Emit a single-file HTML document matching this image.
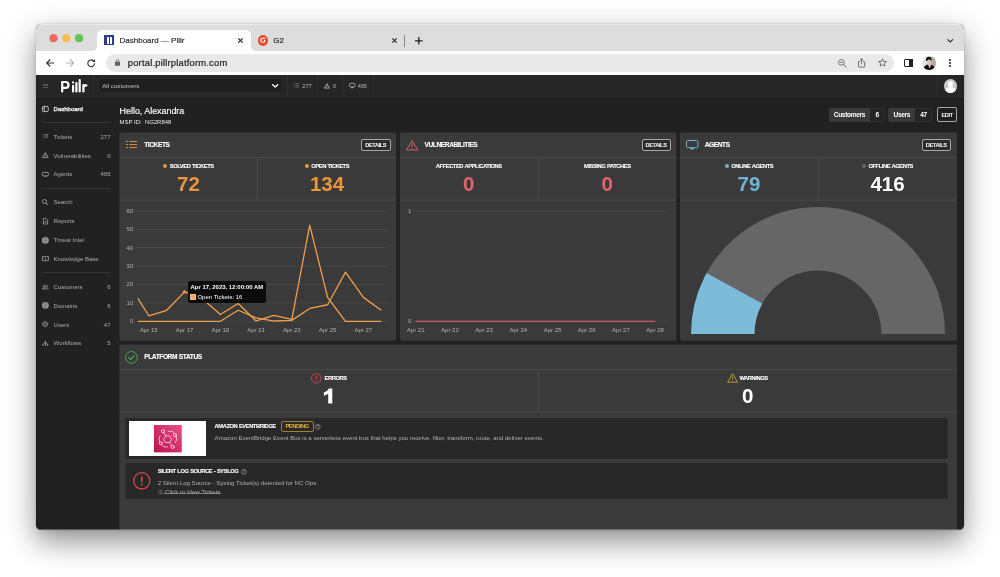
<!DOCTYPE html>
<html>
<head>
<meta charset="utf-8">
<title>Dashboard — Pillr</title>
<style>
*{box-sizing:border-box;margin:0;padding:0}
html,body{width:1000px;height:577px;overflow:hidden;background:#fff}
body{font-family:"Liberation Sans",sans-serif;position:relative;color:#fff}
.a{position:absolute}
.t{position:absolute;white-space:nowrap;line-height:1}
.b{font-weight:bold}
svg{position:absolute;overflow:visible}
#shadow{left:36px;top:24.3px;width:928px;height:505.3px;border-radius:5.5px;
 box-shadow:0 12px 26px rgba(0,0,0,.33),0 0 0 .5px rgba(0,0,0,.10),0 10px 42px rgba(0,0,0,.13),0 2px 6px rgba(0,0,0,.07)}
#win{left:36px;top:24px;width:928px;height:505.6px;overflow:hidden;background:#222;border-radius:5.5px}
#o{left:-36px;top:-24px;width:1000px;height:577px}
#win{will-change:transform}
/* chrome */
.dot{width:8.2px;height:8.2px;border-radius:50%;top:34.1px}
/* app */
.panel{background:#3a3a3a;border-radius:2px}
.hl{background:#4b4b4b;height:1px}
.vl{background:#4b4b4b;width:1px}
.card{background:#282828;border-radius:2px}
.nav{color:#adadad;font-size:6px;left:53.6px}
.cnt{color:#adadad;font-size:6px;right:889.5px}
.btn{border:.8px solid #a8a8a8;border-radius:2px;font-size:5.7px;font-weight:bold;color:#fff;text-align:center;letter-spacing:-.42px;text-indent:-.4px}
.lbl{font-size:5.8px;font-weight:bold;color:#fff;letter-spacing:-.46px;word-spacing:.5px;-webkit-text-stroke:.1px #fff}
.big{font-size:20.5px;font-weight:bold}
.ph{font-size:6.6px;font-weight:bold;color:#fff;letter-spacing:-.41px;word-spacing:.4px;-webkit-text-stroke:.1px #fff}
.ax{font-size:6px;color:#b2b2b2}
.hc{font-size:5.55px;color:#b6b6b6}
</style>
</head>
<body>
<div id="shadow" class="a"></div>
<div id="win" class="a"><div id="o" class="a">
<!-- ===== browser chrome ===== -->
<div class="a" style="left:36px;top:24px;width:928px;height:27px;background:#dddddd"></div><div class="a" style="left:36px;top:24.3px;width:928px;height:.7px;background:rgba(255,255,255,.45)"></div>
<svg style="left:0;top:0" width="1000" height="577" viewBox="0 0 1000 577"><rect x="36" y="51" width="928" height="24.1" fill="#fff"/><rect x="36" y="75.1" width="928" height="22" fill="#262626"/><rect x="36" y="96.1" width="928" height=".7" fill="#303030"/><rect x="36" y="96.75" width="928" height="434" fill="#212121"/></svg>
<svg style="left:0;top:0" width="100" height="60" viewBox="0 0 100 60"><circle cx="53.5" cy="38.2" r="4.1" fill="#ee6a5f"/><circle cx="66.3" cy="38.2" r="4.1" fill="#f5be4f"/><circle cx="79.1" cy="38.2" r="4.1" fill="#62c554"/></svg>
<!-- active tab -->
<div class="a" style="left:96.5px;top:29.9px;width:154.5px;height:21.4px;background:#fff;border-radius:5.5px 5.5px 0 0"></div>
<svg style="left:91.5px;top:46px" width="5" height="5"><path d="M0 5H5V0A5 5 0 0 1 0 5Z" fill="#fff"/></svg>
<svg style="left:251px;top:46px" width="5" height="5"><path d="M5 5H0V0A5 5 0 0 0 5 5Z" fill="#fff"/></svg>
<div class="a" style="left:103.8px;top:35.2px;width:10.2px;height:10.2px;background:#303c8e"></div>
<div class="a" style="left:107.3px;top:36.5px;width:1.6px;height:7.6px;background:#fff"></div>
<div class="a" style="left:109.95px;top:36.5px;width:1.6px;height:7.6px;background:#fff"></div>
<div class="t" style="left:119.5px;top:36.8px;font-size:8px;color:#2e3134;-webkit-text-stroke:.2px #2e3134">Dashboard — Pillr</div>
<svg style="left:237.6px;top:37.9px" width="5" height="5" viewBox="0 0 5 5"><path d="M0.3 0.3L4.7 4.7M4.7 0.3L0.3 4.7" stroke="#2a2a2a" stroke-width="1.2" fill="none"/></svg>
<!-- tab 2 -->
<div class="a" style="left:257.8px;top:35.4px;width:10.2px;height:10.2px;border-radius:50%;background:#ee4a2c"></div>
<svg style="left:257.8px;top:35.4px" width="10.2" height="10.2" viewBox="0 0 10.2 10.2"><path d="M6.3 3.6A2.15 2.15 0 1 0 6.9 6.2" stroke="#fff" stroke-width="1.05" fill="none"/><path d="M5.6 5.9L6.3 4.9H7.6L7 5.9Z" fill="#fff"/><path d="M6.5 3.2Q6.7 2.5 7.3 2.6Q7.9 2.8 7.2 3.5L6.6 4.1H7.8" stroke="#fff" stroke-width=".5" fill="none"/></svg>
<div class="t" style="left:273.2px;top:36.8px;font-size:8px;color:#2e3134;-webkit-text-stroke:.2px #2e3134">G2</div>
<svg style="left:391.8px;top:37.9px" width="5" height="5" viewBox="0 0 5 5"><path d="M0.3 0.3L4.7 4.7M4.7 0.3L0.3 4.7" stroke="#2a2a2a" stroke-width="1.2" fill="none"/></svg>
<div class="a" style="left:404.3px;top:34.5px;width:.7px;height:12.2px;background:#8a8a8a"></div>
<svg style="left:414.8px;top:36.6px" width="7.6" height="7.6" viewBox="0 0 7.6 7.6"><path d="M3.8 0V7.6M0 3.8H7.6" stroke="#222" stroke-width="1.3" fill="none"/></svg>
<svg style="left:946.5px;top:38.8px" width="6.4" height="3.6" viewBox="0 0 6.4 3.6"><path d="M0.4 0.4L3.2 3L6 0.4" stroke="#222" stroke-width="1.1" fill="none"/></svg>
<!-- toolbar -->
<svg style="left:46px;top:59px" width="8.4" height="8" viewBox="0 0 8.4 8"><path d="M8.2 4H0.8M4.2 0.5L0.7 4L4.2 7.5" stroke="#333" stroke-width="1.1" fill="none"/></svg>
<svg style="left:66.4px;top:59px" width="8.4" height="8" viewBox="0 0 8.4 8"><path d="M0.2 4H7.6M4.2 0.5L7.7 4L4.2 7.5" stroke="#b4b4b4" stroke-width="1.1" fill="none"/></svg>
<svg style="left:87.4px;top:58.8px" width="8.6" height="8.6" viewBox="0 0 8.6 8.6"><path d="M7.6 4.3A3.4 3.4 0 1 1 6.6 1.9" stroke="#333" stroke-width="1.1" fill="none"/><path d="M5.1 2.9H8V0Z" fill="#333"/></svg>
<div class="a" style="left:106.2px;top:54.2px;width:788px;height:17.5px;border-radius:9px;background:#e9e9e9"></div>
<svg style="left:115px;top:58.6px" width="5" height="7" viewBox="0 0 5 7"><rect x="0" y="2.8" width="5" height="4" rx=".6" fill="#5f6368"/><path d="M1.2 3V1.9A1.3 1.3 0 0 1 3.8 1.9V3" stroke="#5f6368" stroke-width=".8" fill="none"/></svg>
<div class="t" style="left:127.8px;top:58.4px;font-size:9.4px;letter-spacing:.2px;color:#202124;-webkit-text-stroke:.2px #202124">portal.pillrplatform.com</div>
<!-- right icons -->
<svg style="left:837.5px;top:59px" width="9" height="9" viewBox="0 0 9 9"><circle cx="3.4" cy="3.4" r="2.8" stroke="#5f6368" stroke-width=".9" fill="none"/><path d="M5.5 5.5L8.4 8.4" stroke="#5f6368" stroke-width="1"/><path d="M2 3.4H4.8" stroke="#5f6368" stroke-width=".8"/></svg>
<svg style="left:858.4px;top:57.8px" width="7.2" height="9.6" viewBox="0 0 7.2 9.6"><path d="M2 3.6H.9Q.5 3.6 .5 4.1V8.6Q.5 9.1 .9 9.1H6.3Q6.7 9.1 6.7 8.6V4.1Q6.7 3.6 6.3 3.6H5.2" stroke="#5f6368" stroke-width=".9" fill="none"/><path d="M3.6 6.4V.9M1.9 2.4L3.6 .7L5.3 2.4" stroke="#5f6368" stroke-width=".9" fill="none"/></svg>
<svg style="left:878px;top:58.4px" width="9" height="8.8" viewBox="0 0 9 8.8"><path d="M4.5 .8L5.6 3.4L8.4 3.6L6.3 5.4L6.9 8.1L4.5 6.7L2.1 8.1L2.7 5.4L.6 3.6L3.4 3.4Z" stroke="#5f6368" stroke-width=".9" fill="none" stroke-linejoin="round"/></svg>
<div class="a" style="left:904px;top:58.7px;width:9px;height:8.6px;border:1.2px solid #222;border-radius:1px"></div>
<div class="a" style="left:909.2px;top:58.7px;width:3.8px;height:8.6px;background:#222"></div>
<svg style="left:922.1px;top:55.6px" width="14.1" height="14.1" viewBox="0 0 14.1 14.1"><defs><clipPath id="av"><circle cx="7.05" cy="7.05" r="7.05"/></clipPath><linearGradient id="avb" x1="0" y1="0" x2="1" y2="0"><stop offset="0" stop-color="#e6e2df"/><stop offset=".55" stop-color="#dcd8d3"/><stop offset=".7" stop-color="#b4afa2"/><stop offset="1" stop-color="#a9a597"/></linearGradient></defs><g clip-path="url(#av)"><rect width="14.1" height="14.1" fill="#e4e0dd"/><rect x="8.4" width="5.7" height="14.1" fill="#b3aea1"/><path d="M4 4.2Q3.8 .9 6.6 .7Q9.6 .6 9.6 3.6L9.2 5H4.4Z" fill="#15120f"/><ellipse cx="7.1" cy="5.6" rx="1.9" ry="2.7" fill="#dcc6b8"/><path d="M5.3 3.6Q7 2.6 8.9 3.8L9 2.6Q7 1.6 5 2.8Z" fill="#15120f"/><path d="M6.2 7.6H8.2V10H6.2Z" fill="#d3bcad"/><path d="M1.6 14.1Q1.4 9.6 5.8 8.6L7.8 12.2L9 8.7Q13.2 9.8 13 14.1Z" fill="#0e0e10"/><path d="M6.4 8.8L7.8 12.2L8.8 8.8Q7.6 9.4 6.4 8.8Z" fill="#d3bcad"/></g></svg>
<div class="a" style="left:948.8px;top:58.8px;width:1.8px;height:1.8px;border-radius:50%;background:#222"></div>
<div class="a" style="left:948.8px;top:62.1px;width:1.8px;height:1.8px;border-radius:50%;background:#222"></div>
<div class="a" style="left:948.8px;top:65.4px;width:1.8px;height:1.8px;border-radius:50%;background:#222"></div>

<!-- ===== app header ===== -->
<!--HEADER-->
<!-- hamburger -->
<div class="a" style="left:43.3px;top:83.5px;width:4.7px;height:.8px;background:#545454"></div>
<div class="a" style="left:43.3px;top:85.2px;width:4.7px;height:.8px;background:#545454"></div>
<div class="a" style="left:43.3px;top:86.9px;width:4.7px;height:.8px;background:#545454"></div>
<!-- logo -->
<svg style="left:60px;top:78px" width="30" height="16" viewBox="0 0 30 16"><g stroke="#fff" stroke-width="2.2" fill="none" stroke-linecap="round" stroke-linejoin="round"><path d="M2.2 13.4V4H5.6A2.9 2.9 0 0 1 5.6 9.8H2.6"/><path d="M13.1 7.9V13.4"/><path d="M16.4 5.1V13.4"/><path d="M19.7 2V13.4"/><path d="M23.4 7.2V13.4M23.5 9.4Q23.8 7.1 26.4 7.3"/></g><circle cx="13.1" cy="4.5" r="1.15" fill="#fff"/></svg>
<div class="a" style="left:93.4px;top:75.3px;width:.8px;height:21.5px;background:#2f2f2f"></div>
<!-- select -->
<svg style="left:0;top:0" width="300" height="100" viewBox="0 0 300 100"><rect x="98.7" y="78.6" width="183.6" height="14.2" rx="1.8" fill="#1f1f1f" stroke="#313131" stroke-width=".7"/></svg>
<div class="t" style="left:102.2px;top:82.7px;font-size:6.2px;color:#c8c8c8">All customers</div>
<svg style="left:272px;top:84px" width="6.4" height="4" viewBox="0 0 6.4 4"><path d="M.7 .7L3.2 3.1L5.7 .7" stroke="#fff" stroke-width="1.4" fill="none" stroke-linecap="round" stroke-linejoin="round"/></svg>
<!-- counters -->
<div class="a" style="left:287.2px;top:75.3px;width:.8px;height:21.5px;background:#2f2f2f"></div>
<div class="a" style="left:317px;top:75.3px;width:.8px;height:21.5px;background:#2f2f2f"></div>
<div class="a" style="left:342px;top:75.3px;width:.8px;height:21.5px;background:#2f2f2f"></div>
<div class="a" style="left:373px;top:75.3px;width:.8px;height:21.5px;background:#2f2f2f"></div>
<svg style="left:294.2px;top:83.2px" width="5.1" height="4.6" viewBox="0 0 5.1 4.6"><path d="M0 .5H1M0 2.3H1M0 4.1H1M1.7 .5H5.1M1.7 2.3H5.1M1.7 4.1H5.1" stroke="#686868" stroke-width=".9"/></svg>
<div class="t hc" style="left:302.3px;top:83.8px">277</div>
<svg style="left:324.2px;top:83px" width="6" height="5.6" viewBox="0 0 6 5.6"><path d="M3 .6L5.6 5.1H.4Z" stroke="#b0b0b0" stroke-width=".85" fill="none" stroke-linejoin="round"/><path d="M3 2.2V3.6M3 4.1V4.7" stroke="#b0b0b0" stroke-width=".8"/></svg>
<div class="t hc" style="left:333px;top:83.8px">0</div>
<svg style="left:349.2px;top:83.2px" width="6" height="5.4" viewBox="0 0 6 5.4"><rect x=".4" y=".4" width="5.6" height="3.5" rx="1" stroke="#b0b0b0" stroke-width=".8" fill="none"/><path d="M2.2 4.7H4.2" stroke="#d0d0d0" stroke-width=".8"/></svg>
<div class="t hc" style="left:357.7px;top:83.8px">495</div>
<!-- user avatar -->
<div class="a" style="left:937.4px;top:75.3px;width:.8px;height:21.5px;background:#2f2f2f"></div>
<div class="a" style="left:943.7px;top:79px;width:13.6px;height:13.6px;border-radius:50%;background:#c9c9c9;overflow:hidden">
 <div class="a" style="left:4.2px;top:2.4px;width:5.2px;height:5.6px;border-radius:50%;background:#fff"></div>
 <div class="a" style="left:1.6px;top:8.2px;width:10.4px;height:9px;border-radius:50% 50% 0 0;background:#fff"></div>
</div>
<!--/HEADER-->
<!--SIDEBAR-->
<!-- sidebar -->
<div class="a" style="left:41.8px;top:122.4px;width:69px;height:.7px;background:#333"></div>
<div class="a" style="left:41.8px;top:188.1px;width:69px;height:.7px;background:#333"></div>
<div class="a" style="left:41.8px;top:272.3px;width:69px;height:.7px;background:#333"></div>
<div class="t" style="left:53.6px;top:105.8px;font-size:6px;color:#fff;-webkit-text-stroke:.25px #fff">Dashboard</div>
<div class="t nav" style="top:133.6px">Tickets</div><div class="t cnt" style="top:133.6px">277</div>
<div class="t nav" style="top:152.6px">Vulnerabilities</div><div class="t cnt" style="top:152.6px">0</div>
<div class="t nav" style="top:171.4px">Agents</div><div class="t cnt" style="top:171.4px">495</div>
<div class="t nav" style="top:199.4px">Search</div>
<div class="t nav" style="top:218.3px">Reports</div>
<div class="t nav" style="top:237.1px">Threat Intel</div>
<div class="t nav" style="top:256px">Knowledge Base</div>
<div class="t nav" style="top:283.8px">Customers</div><div class="t cnt" style="top:283.8px">6</div>
<div class="t nav" style="top:302.8px">Domains</div><div class="t cnt" style="top:302.8px">6</div>
<div class="t nav" style="top:321.6px">Users</div><div class="t cnt" style="top:321.6px">47</div>
<div class="t nav" style="top:340.4px">Workflows</div><div class="t cnt" style="top:340.4px">5</div>
<!-- icons -->
<svg style="left:42.2px;top:105.9px" width="6.6" height="6" viewBox="0 0 6.6 6"><rect x=".4" y=".4" width="5.8" height="5.2" rx="1" stroke="#e0e0e0" stroke-width=".8" fill="none"/><path d="M2.4 .4V5.6M.4 2.2H2.4" stroke="#e0e0e0" stroke-width=".7"/></svg>
<svg style="left:42.7px;top:134.3px" width="5.1" height="3.8" viewBox="0 0 5.1 3.8"><path d="M0 .5H1M0 1.9H1M0 3.3H1M1.7 .5H5.1M1.7 1.9H5.1M1.7 3.3H5.1" stroke="#7c7c7c" stroke-width=".8"/></svg>
<svg style="left:42.4px;top:152.2px" width="6.6" height="6" viewBox="0 0 6.6 6"><path d="M3.3 .6L6.1 5.4H.5Z" stroke="#b0b0b0" stroke-width=".75" fill="none" stroke-linejoin="round"/><path d="M3.3 2.3V3.8M3.3 4.3V4.8" stroke="#b0b0b0" stroke-width=".75"/></svg>
<svg style="left:42.2px;top:171.8px" width="6.8" height="5.2" viewBox="0 0 6.8 5.2"><rect x=".4" y=".4" width="6" height="3.5" rx="1.1" stroke="#b0b0b0" stroke-width=".8" fill="none"/><path d="M2.4 4.8H4.4L3.9 3.9H2.9Z" fill="#b0b0b0"/></svg>
<svg style="left:42.3px;top:199.2px" width="6.4" height="6.4" viewBox="0 0 6.4 6.4"><circle cx="2.5" cy="2.5" r="2" stroke="#a8a8a8" stroke-width=".8" fill="none"/><path d="M4 4L6 6" stroke="#a8a8a8" stroke-width=".9"/></svg>
<svg style="left:42.9px;top:218px" width="5" height="6.4" viewBox="0 0 5 6.4"><path d="M.4 .4H3.2L4.6 1.8V6H.4Z" stroke="#a8a8a8" stroke-width=".75" fill="none" stroke-linejoin="round"/><path d="M1.5 3.8H3.5M2.5 2.8V4.8" stroke="#a8a8a8" stroke-width=".6"/></svg>
<svg style="left:42px;top:236.7px" width="6.8" height="6.8" viewBox="0 0 6.8 6.8"><circle cx="3.4" cy="3.4" r="3.3" fill="#b2b2b2"/><path d="M.3 3.4H6.5M3.4 .2V6.6M1 1.5Q3.4 2.6 5.8 1.5M1 5.3Q3.4 4.2 5.8 5.3" stroke="#3a3a3a" stroke-width=".32" fill="none"/><ellipse cx="3.4" cy="3.4" rx="1.5" ry="3.2" stroke="#3a3a3a" stroke-width=".32" fill="none"/></svg>
<svg style="left:42px;top:256.4px" width="6.8" height="5.4" viewBox="0 0 6.8 5.4"><path d="M.4 .5H2.4Q3.2 .5 3.4 1.1Q3.6 .5 4.4 .5H6.4V4.7H4.2Q3.6 4.7 3.4 5.1Q3.2 4.7 2.6 4.7H.4Z" stroke="#a8a8a8" stroke-width=".75" fill="none" stroke-linejoin="round"/><path d="M3.4 1.1V5" stroke="#a8a8a8" stroke-width=".6"/></svg>
<svg style="left:42.4px;top:284.6px" width="6.6" height="4.4" viewBox="0 0 6.6 4.4"><circle cx="2.2" cy="1.2" r=".9" stroke="#b0b0b0" stroke-width=".6" fill="none"/><circle cx="4.5" cy="1.2" r=".9" stroke="#b0b0b0" stroke-width=".6" fill="none"/><path d="M.4 4Q.4 2.7 2.2 2.7Q4 2.7 4 4ZM4.5 2.7Q6.2 2.7 6.2 4H4.9" stroke="#b0b0b0" stroke-width=".6" fill="none"/></svg>
<svg style="left:42px;top:302.2px" width="6.8" height="6.8" viewBox="0 0 6.8 6.8"><circle cx="3.4" cy="3.4" r="3.3" fill="#b2b2b2"/><path d="M.3 3.4H6.5M3.4 .2V6.6M1 1.5Q3.4 2.6 5.8 1.5M1 5.3Q3.4 4.2 5.8 5.3" stroke="#3a3a3a" stroke-width=".32" fill="none"/><ellipse cx="3.4" cy="3.4" rx="1.5" ry="3.2" stroke="#3a3a3a" stroke-width=".32" fill="none"/></svg>
<svg style="left:42.2px;top:321.2px" width="6.4" height="6.4" viewBox="0 0 6.4 6.4"><circle cx="3.2" cy="3.2" r="2.6" stroke="#b0b0b0" stroke-width=".8" fill="none" stroke-dasharray="1.2 .85"/><circle cx="3.2" cy="3.2" r="2.1" stroke="#b0b0b0" stroke-width=".45" fill="none"/><circle cx="3.2" cy="3.2" r=".9" stroke="#b0b0b0" stroke-width=".45" fill="none"/></svg>
<svg style="left:42.2px;top:341px" width="6.7" height="4.8" viewBox="0 0 6.7 4.8"><path d="M1 4.7V3M3.35 4.7V1.5M5.7 4.7V3" stroke="#b0b0b0" stroke-width="1"/><path d="M1 2.9Q1 1.9 3.35 1.9Q5.7 1.9 5.7 2.9" stroke="#b0b0b0" stroke-width=".5" fill="none"/><circle cx="3.35" cy=".8" r=".75" fill="#b0b0b0"/></svg>
<!--/SIDEBAR-->
<!--BG-->
<svg style="left:0;top:0" width="1000" height="577" viewBox="0 0 1000 577"><rect x="119.5" y="132.5" width="276.7" height="208.3" rx="1.8" fill="#3a3a3a"/><rect x="399.9" y="132.5" width="276.5" height="208.3" rx="1.8" fill="#3a3a3a"/><rect x="679.9" y="132.5" width="277.1" height="208.3" rx="1.8" fill="#3a3a3a"/><rect x="119.5" y="344.5" width="837.5" height="190" rx="1.8" fill="#3a3a3a"/><rect x="119.5" y="156.9" width="276.7" height=".85" fill="#4c4c4c"/><rect x="119.5" y="199.65" width="276.7" height=".85" fill="#4c4c4c"/><rect x="399.9" y="156.9" width="276.5" height=".85" fill="#4c4c4c"/><rect x="399.9" y="199.65" width="276.5" height=".85" fill="#4c4c4c"/><rect x="679.9" y="156.9" width="277.1" height=".85" fill="#4c4c4c"/><rect x="679.9" y="199.65" width="277.1" height=".85" fill="#4c4c4c"/><rect x="257.10" y="157.3" width=".9" height="42.8" fill="#4c4c4c"/><rect x="537.75" y="157.3" width=".9" height="42.8" fill="#4c4c4c"/><rect x="817.75" y="157.3" width=".9" height="42.8" fill="#4c4c4c"/><rect x="119.5" y="369.05" width="837.5" height=".85" fill="#4c4c4c"/><rect x="119.5" y="411.5" width="837.5" height=".85" fill="#4c4c4c"/><rect x="538.05" y="369.5" width=".9" height="42.4" fill="#4c4c4c"/><rect x="125.5" y="417.9" width="822.3" height="40.8" rx="1.8" fill="#282828"/><rect x="125.5" y="463" width="822.3" height="35.9" rx="1.8" fill="#282828"/><rect x="135.5" y="320.95" width="252.5" height=".7" fill="#4d4d4d"/><rect x="135.5" y="302.55" width="252.5" height=".7" fill="#4d4d4d"/><rect x="135.5" y="284.15" width="252.5" height=".7" fill="#4d4d4d"/><rect x="135.5" y="265.75" width="252.5" height=".7" fill="#4d4d4d"/><rect x="135.5" y="247.35" width="252.5" height=".7" fill="#4d4d4d"/><rect x="135.5" y="228.95" width="252.5" height=".7" fill="#4d4d4d"/><rect x="135.5" y="210.55" width="252.5" height=".7" fill="#4d4d4d"/><rect x="413" y="210.55" width="255" height=".7" fill="#4d4d4d"/><rect x="413" y="320.95" width="255" height=".7" fill="#4d4d4d"/><rect x="415.5" y="320.75" width="239.6" height="1.1" fill="#d9606a"/></svg>
<!--/BG-->
<!--TOP-->
<div class="t" style="left:119.6px;top:106.6px;font-size:8.9px;color:#fff;-webkit-text-stroke:.15px #fff">Hello, Alexandra</div>
<div class="t" style="left:119.6px;top:119.9px;font-size:5.95px;color:#e8e8e8">MSP ID:&nbsp; NG2R848</div>
<div class="a" style="left:828.5px;top:107.7px;width:56px;height:14.3px;background:#242424;border:.7px solid #303030;border-radius:2px"></div>
<div class="a" style="left:828.5px;top:107.7px;width:41.7px;height:14.3px;background:#393939;border-radius:2px 0 0 2px"></div>
<div class="t b" style="left:833.8px;top:112.4px;font-size:6.6px;letter-spacing:-.36px;color:#fff">Customers</div>
<div class="t b" style="left:870.2px;width:14.3px;text-align:center;top:112.4px;font-size:6.6px;color:#fff">6</div>
<div class="a" style="left:888px;top:107.7px;width:44.2px;height:14.3px;background:#242424;border:.7px solid #303030;border-radius:2px"></div>
<div class="a" style="left:888px;top:107.7px;width:26.8px;height:14.3px;background:#393939;border-radius:2px 0 0 2px"></div>
<div class="t b" style="left:893.5px;top:112.4px;font-size:6.6px;letter-spacing:-.36px;color:#fff">Users</div>
<div class="t b" style="left:914.8px;width:17.4px;text-align:center;top:112.4px;font-size:6.6px;letter-spacing:-.3px;color:#fff">47</div>
<div class="a btn" style="left:937.4px;top:107.2px;width:19.8px;height:15px;line-height:14.8px;background:#1e1e1e">EDIT</div>
<!--/TOP-->
<!--P1-->
<svg style="left:125.9px;top:141.1px" width="11" height="7.1" viewBox="0 0 11 7.1"><path d="M0 .5H1.9M0 3.55H1.9M0 6.6H1.9M3.3 .5H11M3.3 3.55H11M3.3 6.6H11" stroke="#ea963c" stroke-width=".95"/></svg>
<div class="t ph" style="left:144.2px;top:141.9px">TICKETS</div>
<div class="a btn" style="left:361.2px;top:139.1px;width:29.5px;height:11.5px;line-height:10.1px;background:#2c2c2c">DETAILS</div>
<div class="a" style="left:119.5px;top:161.4px;width:138px;height:10px;display:flex;justify-content:center;align-items:center"><span style="display:inline-block;flex:none;width:4px;height:4px;border-radius:50%;background:#ea963c;margin-right:2.4px"></span><span class="lbl" style="line-height:10px;white-space:nowrap">SOLVED TICKETS</span></div>
<div class="t big" style="left:119.5px;top:174px;width:138px;text-align:center;color:#ea963c">72</div>
<div class="a" style="left:258.0px;top:161.4px;width:138px;height:10px;display:flex;justify-content:center;align-items:center"><span style="display:inline-block;flex:none;width:4px;height:4px;border-radius:50%;background:#ea963c;margin-right:2.4px"></span><span class="lbl" style="line-height:10px;white-space:nowrap">OPEN TICKETS</span></div>
<div class="t big" style="left:258.0px;top:174px;width:138px;text-align:center;color:#ea963c">134</div>
<div class="t ax" style="left:113px;width:20.3px;text-align:right;top:318.10px">0</div>
<div class="t ax" style="left:113px;width:20.3px;text-align:right;top:299.70px">10</div>
<div class="t ax" style="left:113px;width:20.3px;text-align:right;top:281.30px">20</div>
<div class="t ax" style="left:113px;width:20.3px;text-align:right;top:262.90px">30</div>
<div class="t ax" style="left:113px;width:20.3px;text-align:right;top:244.50px">40</div>
<div class="t ax" style="left:113px;width:20.3px;text-align:right;top:226.10px">50</div>
<div class="t ax" style="left:113px;width:20.3px;text-align:right;top:207.70px">60</div>
<div class="t ax" style="left:128.80px;width:40px;text-align:center;top:327.2px">Apr 15</div>
<div class="t ax" style="left:164.56px;width:40px;text-align:center;top:327.2px">Apr 17</div>
<div class="t ax" style="left:200.32px;width:40px;text-align:center;top:327.2px">Apr 19</div>
<div class="t ax" style="left:236.08px;width:40px;text-align:center;top:327.2px">Apr 21</div>
<div class="t ax" style="left:271.84px;width:40px;text-align:center;top:327.2px">Apr 23</div>
<div class="t ax" style="left:307.60px;width:40px;text-align:center;top:327.2px">Apr 25</div>
<div class="t ax" style="left:343.36px;width:40px;text-align:center;top:327.2px">Apr 27</div>
<svg style="left:0;top:0" width="1000" height="577" viewBox="0 0 1000 577"><polyline points="137.90,321.30 148.80,321.30 166.68,321.30 184.56,321.30 202.44,321.30 220.32,321.30 238.20,310.26 256.08,317.80 273.96,321.02 291.84,320.38 309.72,308.42 327.60,304.74 345.48,272.17 363.36,297.38 381.24,310.26" fill="none" stroke="#f09f4c" stroke-width="1.3" stroke-linejoin="round"/><polyline points="137.90,298.30 148.80,315.78 166.68,310.26 184.56,291.86 202.44,298.85 220.32,314.49 238.20,303.45 256.08,320.93 273.96,315.41 291.84,319.46 309.72,225.07 327.60,297.38 345.48,321.30 363.36,321.30 381.24,321.30" fill="none" stroke="#f09f4c" stroke-width="1.3" stroke-linejoin="round"/><circle cx="184.56" cy="291.86" r="1.7" fill="#f09f4c"/></svg>
<div class="a" style="left:188px;top:281px;width:77.8px;height:21.6px;background:rgba(8,8,8,.92);border-radius:2.5px"></div>
<div class="t b" style="left:190.6px;top:284.5px;font-size:5.93px;color:#fff">Apr 17, 2023, 12:00:00 AM</div>
<div class="a" style="left:190.3px;top:293.8px;width:6.2px;height:6.3px;background:#f2a760;border:.6px solid #f6c28f"></div>
<div class="t" style="left:197.4px;top:294px;font-size:6px;color:#fff">Open Tickets: 16</div>
<!--/P1-->
<!--P2-->
<svg style="left:405.8px;top:139.6px" width="12.4" height="10.6" viewBox="0 0 12.4 10.6"><path d="M6.2 .7L11.8 10H.6Z" stroke="#e1646b" stroke-width=".9" fill="none" stroke-linejoin="round"/><path d="M6.2 3.6V6.8M6.2 7.8V8.8" stroke="#e1646b" stroke-width="1"/></svg>
<div class="t ph" style="left:424.5px;top:141.9px">VULNERABILITIES</div>
<div class="a btn" style="left:641.5px;top:139.1px;width:29.5px;height:11.5px;line-height:10.1px;background:#2c2c2c">DETAILS</div>
<div class="a" style="left:399.8px;top:161.4px;width:138px;height:10px;display:flex;justify-content:center;align-items:center"><span class="lbl" style="line-height:10px;white-space:nowrap">AFFECTED APPLICATIONS</span></div>
<div class="t big" style="left:399.8px;top:174px;width:138px;text-align:center;color:#e1646b">0</div>
<div class="a" style="left:538.3px;top:161.4px;width:138px;height:10px;display:flex;justify-content:center;align-items:center"><span class="lbl" style="line-height:10px;white-space:nowrap">MISSING PATCHES</span></div>
<div class="t big" style="left:538.3px;top:174px;width:138px;text-align:center;color:#e1646b">0</div>
<div class="t ax" style="left:391px;width:20.3px;text-align:right;top:207.70px">1</div>
<div class="t ax" style="left:391px;width:20.3px;text-align:right;top:318.10px">0</div>
<div class="t ax" style="left:395.70px;width:40px;text-align:center;top:327.2px">Apr 21</div>
<div class="t ax" style="left:429.90px;width:40px;text-align:center;top:327.2px">Apr 22</div>
<div class="t ax" style="left:464.10px;width:40px;text-align:center;top:327.2px">Apr 23</div>
<div class="t ax" style="left:498.30px;width:40px;text-align:center;top:327.2px">Apr 24</div>
<div class="t ax" style="left:532.50px;width:40px;text-align:center;top:327.2px">Apr 25</div>
<div class="t ax" style="left:566.70px;width:40px;text-align:center;top:327.2px">Apr 26</div>
<div class="t ax" style="left:600.90px;width:40px;text-align:center;top:327.2px">Apr 27</div>
<div class="t ax" style="left:635.10px;width:40px;text-align:center;top:327.2px">Apr 28</div>

<!--/P2-->
<!--P3-->
<svg style="left:685.8px;top:140.2px" width="12.4" height="9.8" viewBox="0 0 12.4 9.8"><rect x=".5" y=".5" width="11.4" height="7.2" rx="1.2" stroke="#6cb4d8" stroke-width="1" fill="none"/><path d="M4.2 9.5L5 7.8H7.4L8.2 9.5Z" fill="#6cb4d8"/></svg>
<div class="t ph" style="left:704.7px;top:141.9px">AGENTS</div>
<div class="a btn" style="left:921.7px;top:139.1px;width:29.5px;height:11.5px;line-height:10.1px;background:#2c2c2c">DETAILS</div>
<div class="a" style="left:680px;top:161.4px;width:138px;height:10px;display:flex;justify-content:center;align-items:center"><span style="display:inline-block;flex:none;width:4px;height:4px;border-radius:50%;background:#6cb4d8;margin-right:2.4px"></span><span class="lbl" style="line-height:10px;white-space:nowrap">ONLINE AGENTS</span></div>
<div class="t big" style="left:680px;top:174px;width:138px;text-align:center;color:#6cb4d8">79</div>
<div class="a" style="left:818.5px;top:161.4px;width:138px;height:10px;display:flex;justify-content:center;align-items:center"><span style="display:inline-block;flex:none;width:4px;height:4px;border-radius:50%;background:#6a6a6a;margin-right:2.4px"></span><span class="lbl" style="line-height:10px;white-space:nowrap">OFFLINE AGENTS</span></div>
<div class="t big" style="left:818.5px;top:174px;width:138px;text-align:center;color:#fff">416</div>
<svg style="left:0;top:0" width="1000" height="577" viewBox="0 0 1000 577"><path d="M706.63 272.96 A127 127 0 0 1 945.00 334.00 L881.50 334.00 A63.5 63.5 0 0 0 762.32 303.48Z" fill="#666"/><path d="M691.00 334.00 A127 127 0 0 1 706.63 272.96 L762.32 303.48 A63.5 63.5 0 0 0 754.50 334.00Z" fill="#7dbcd8"/></svg>
<!--/P3-->
<!--P4-->
<svg style="left:125.1px;top:350.8px" width="12.8" height="12.8" viewBox="0 0 12.8 12.8"><circle cx="6.4" cy="6.4" r="5.9" stroke="#4cae50" stroke-width=".9" fill="none"/><path d="M3.6 6.6L5.6 8.6L9.2 4.6" stroke="#4cae50" stroke-width="1.2" fill="none" stroke-linecap="round" stroke-linejoin="round"/></svg>
<div class="t ph" style="left:144.2px;top:353.6px">PLATFORM STATUS</div>
<svg style="left:310.7px;top:373.1px" width="10.6" height="10.6" viewBox="0 0 10.6 10.6"><circle cx="5.3" cy="5.3" r="4.8" stroke="#d9474a" stroke-width=".85" fill="none"/><path d="M5.3 2.6V6.1M5.3 7.2V8.2" stroke="#d9474a" stroke-width="1.1"/></svg>
<div class="t lbl" style="left:324.6px;top:375.6px">ERRORS</div>
<svg style="left:0;top:0" width="1000" height="577" viewBox="0 0 1000 577"><path d="M332.3 388.5V403.4H328.2V393.4Q326.3 395.1 323.9 395.8V392.5Q327.6 391.2 329 388.5Z" fill="#fff"/></svg>
<svg style="left:727px;top:373.2px" width="11.2" height="9.8" viewBox="0 0 11.2 9.8"><path d="M5.6 .7L10.6 9.2H.6Z" stroke="#c9a63c" stroke-width=".85" fill="none" stroke-linejoin="round"/><path d="M5.6 3.4V6.3M5.6 7.2V8.1" stroke="#c9a63c" stroke-width=".9"/></svg>
<div class="t lbl" style="left:739.4px;top:375.6px">WARNINGS</div>
<div class="t big" style="left:538.5px;width:418.5px;text-align:center;top:385.9px;color:#fff">0</div>
<div class="a" style="left:128.8px;top:421.2px;width:77.4px;height:34.8px;background:#fff"></div>
<svg style="left:154px;top:424.9px" width="27.8" height="27.4" viewBox="0 0 27.8 27.4"><defs><linearGradient id="eb" x1="0" y1="1" x2="1" y2="0"><stop offset="0" stop-color="#b8124f"/><stop offset="1" stop-color="#ee4f86"/></linearGradient></defs><rect width="27.8" height="27.4" fill="url(#eb)"/><g stroke="#fff" stroke-width=".75" fill="none" opacity=".9" stroke-linecap="round" stroke-linejoin="round"><path d="M9.6 14.2L11.65 10.9H15.65L17.6 14.2L15.65 17.5H11.65Z"/><circle cx="9" cy="6.2" r="1.55"/><circle cx="20.9" cy="10" r="1.55"/><circle cx="6.7" cy="18.2" r="1.55"/><circle cx="18.7" cy="22" r="1.55"/><path d="M9.9 7.5L11.65 10.9M15.65 17.5L17.8 20.7"/><path d="M14.3 6.4H18.2Q19.6 6.8 20.3 8.5"/><path d="M22.2 11Q23.6 14.2 21.6 17.5"/><path d="M6 10.9Q3.9 14.2 5.7 16.9"/><path d="M7.7 19.6Q8.6 21.8 10.4 21.9H13.3"/></g></svg>
<div class="t lbl" style="left:214.6px;top:423.7px">AMAZON EVENTBRIDGE</div>
<div class="a" style="left:281px;top:421.2px;width:32.6px;height:10.6px;border:.6px solid #a08428;border-radius:2px;background:#292929"></div>
<div class="t b" style="left:281px;width:32.6px;text-align:center;top:423.7px;font-size:5.8px;letter-spacing:-.44px;text-indent:-.4px;color:#e1b73e">PENDING</div>
<svg style="left:315.2px;top:423.7px" width="5.6" height="5.6" viewBox="0 0 5.6 5.6"><circle cx="2.8" cy="2.8" r="2.4" stroke="#a8a8a8" stroke-width=".6" fill="none"/><path d="M2 2.2Q2 1.4 2.8 1.4Q3.6 1.4 3.6 2.1Q3.6 2.6 2.8 3V3.4" stroke="#a8a8a8" stroke-width=".55" fill="none"/><circle cx="2.8" cy="4.1" r=".35" fill="#a8a8a8"/></svg>
<div class="t" style="left:214.6px;top:434.8px;font-size:6.05px;color:#b0b0b0">Amazon EventBridge Event Bus is a serverless event bus that helps you receive, filter, transform, route, and deliver events.</div>
<svg style="left:132.8px;top:472.1px" width="17.6" height="17.6" viewBox="0 0 17.6 17.6"><circle cx="8.8" cy="8.8" r="8.1" stroke="#dd474b" stroke-width="1.25" fill="none"/><path d="M8.8 4.6V10.2M8.8 11.8V13.4" stroke="#d9474a" stroke-width="1.6"/></svg>
<div class="t lbl" style="left:157.8px;top:468.6px">SILENT LOG SOURCE - SYSLOG</div>
<svg style="left:241.1px;top:468.6px" width="5.6" height="5.6" viewBox="0 0 5.6 5.6"><circle cx="2.8" cy="2.8" r="2.4" stroke="#a8a8a8" stroke-width=".6" fill="none"/><path d="M2 2.2Q2 1.4 2.8 1.4Q3.6 1.4 3.6 2.1Q3.6 2.6 2.8 3V3.4" stroke="#a8a8a8" stroke-width=".55" fill="none"/><circle cx="2.8" cy="4.1" r=".35" fill="#a8a8a8"/></svg>
<div class="t" style="left:157.8px;top:480.3px;font-size:6.08px;color:#b0b0b0">2 Silent Log Source - Syslog Ticket(s) detected for NC Ops.</div>
<svg style="left:158px;top:489.6px" width="4.6" height="4.2" viewBox="0 0 4.6 4.2"><path d="M0 .5H.8M0 2.1H.8M0 3.7H.8M1.5 .5H4.6M1.5 2.1H4.6M1.5 3.7H4.6" stroke="#8a8a8a" stroke-width=".6"/></svg>
<div class="t" style="left:163.4px;top:488.7px;font-size:6.08px;color:#b4b4b4">&nbsp;Click to View Tickets</div><svg style="left:0;top:0" width="300" height="577" viewBox="0 0 300 577"><rect x="163.6" y="493.3" width="57.6" height=".6" fill="#a6a6a6"/></svg>
<div class="a" style="left:36px;top:529px;width:928px;height:1px;background:rgba(175,175,175,.42)"></div>
<!--/P4-->
</div></div>
</body>
</html>
